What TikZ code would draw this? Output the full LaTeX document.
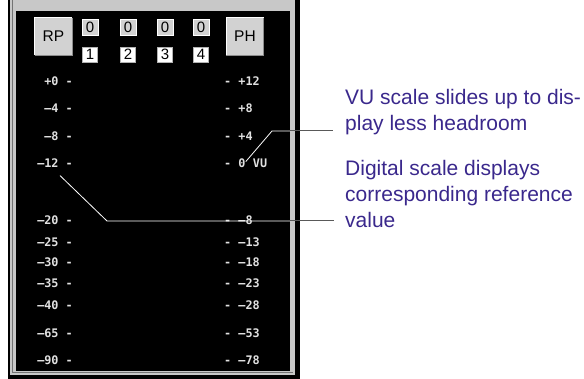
\documentclass[tikz,border=0pt]{standalone}
\usepackage{fontspec}
\setmainfont{Liberation Sans}
\newfontfamily\meterfont{DejaVu Sans Mono}
\usetikzlibrary{positioning}
\definecolor{framegray}{RGB}{200,200,200}
\definecolor{btngray}{RGB}{210,210,210}
\definecolor{scalecol}{RGB}{225,225,225}
\definecolor{notecol}{RGB}{58,40,140}
\tikzstyle{btn} = [rectangle, fill=btngray, minimum width=37pt, minimum height=37pt,
    inner sep=0pt, font=\fontsize{15.5}{16}\selectfont]
\tikzstyle{digtop} = [rectangle, draw=white, fill=btngray, minimum size=16pt,
    inner sep=0pt, font=\fontsize{15}{15}\selectfont]
\tikzstyle{digbot} = [rectangle, draw=black!30, fill=white, minimum size=15pt,
    inner sep=0pt, font=\fontsize{15}{15}\selectfont]
\tikzstyle{lscale} = [anchor=east, inner sep=0pt, text=scalecol,
    font=\meterfont\bfseries\fontsize{11.8}{12}\selectfont]
\tikzstyle{rscale} = [lscale, anchor=west]
\tikzstyle{note} = [anchor=base west, inner sep=0pt, align=left, text=notecol,
    font=\fontsize{21}{26}\selectfont]
\tikzstyle{leader} = [draw=white, line width=0.8pt]
\tikzstyle{leaderout} = [draw=black!65, line width=1pt]

\begin{document}
\begin{tikzpicture}[x=1pt, y=-1pt]
        \useasboundingbox (0,0) rectangle (584,379);

        % Panel
        \fill[black] (8,-1) rectangle (300,379);
        \fill[framegray] (10,-1) rectangle (295,375);
        \draw[black!55, line width=0.6pt] (12.5,-1) -- (12.5,372.5) -- (293,372.5);
        \fill[black] (16,11) rectangle (290,371);

        % Buttons
        \node [btn] (rp) at (53.5,36.5) {RP};
        \node [btn] (ph) at (245,36.5) {PH};
        \foreach \b in {rp, ph} {
            \draw[white, line width=1pt] (\b.south west) |- (\b.north east);
            \draw[black!45, line width=1pt] (\b.south west) -| (\b.north east);
        }

        % Digit boxes
        \foreach \x [count=\i] in {90,128,165,201} {
            \node [digtop] (top\i) at (\x,27) {0};
            \node [digbot] (bot\i) at (\x,54.5) {\i};
        }

        % Scales
        \foreach \y/\l/\r [count=\i] in {81/+0/+12, 108/–4/+8, 136/–8/+4, 163/–12/0,
                220/–20/–8, 242/–25/–13, 262/–30/–18, 283/–35/–23, 305/–40/–28,
                333/–65/–53, 360/–90/–78} {
            \node [lscale] (l\i) at (73,\y) {\l\ -};
            \node [rscale] (r\i) at (224,\y) {- \r};
        }
        \node [rscale, right=7pt of r4] (vu) {VU};

        % Notes
        \node [note] (vunote) at (345,131) {VU scale slides up to dis-\\play less headroom};
        \node [note] (dignote) at (345,228) {Digital scale displays\\corresponding reference\\value};

        % Leaders
        \coordinate (vukink) at (272,131);
        \coordinate (vuedge) at (290,131);
        \coordinate (digkink) at (107,221);
        \coordinate (digedge) at (290,221);
        \draw [leader] ([yshift=6pt]r4.south east) -- (vukink) -- (vuedge);
        \draw [leaderout] (vuedge) -- ([xshift=-12pt]vunote.base west);
        \draw [leader] ([xshift=-13pt, yshift=-8pt]l4.south east) -- (digkink) -- (digedge);
        \draw [leaderout] (digedge) -- ([xshift=-11pt, yshift=7pt]dignote.base west);
    \end{tikzpicture}
\end{document}
